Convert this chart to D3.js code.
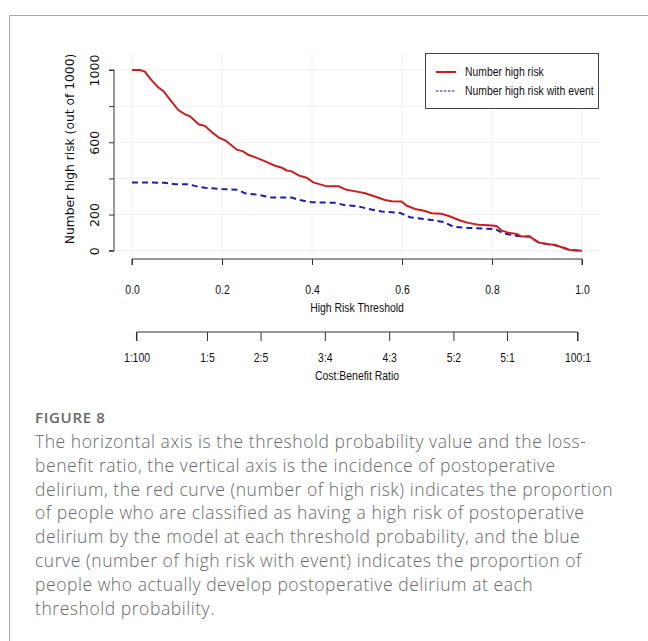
<!DOCTYPE html>
<html>
<head>
<meta charset="utf-8">
<script src="https://cdn.jsdelivr.net/npm/d3@7"></script>
<style>
  body { margin: 0; background: #fff; }
  svg { display: block; }
  .narrow { font-family: 'Liberation Sans', Arial, sans-serif; fill: #111; }
  .wide { font-family: 'DejaVu Sans', Verdana, sans-serif; fill: #111; }
  .caption { font-family: 'Open Sans', 'Noto Sans', sans-serif; fill: #686868; }
</style>
</head>
<body>
<svg id="chart" width="648" height="641"></svg>
<script>
// threshold values and number high risk (out of 1000)
var riskThreshold = [0, 0.018, 0.029, 0.04, 0.058, 0.07, 0.084, 0.103, 0.118, 0.129, 0.149, 0.162, 0.177, 0.193, 0.207, 0.218, 0.233, 0.247, 0.258, 0.273, 0.296, 0.318, 0.333, 0.344, 0.355, 0.37, 0.388, 0.403, 0.414, 0.433, 0.459, 0.477, 0.5, 0.518, 0.54, 0.562, 0.577, 0.599, 0.61, 0.629, 0.647, 0.666, 0.688, 0.707, 0.729, 0.747, 0.77, 0.792, 0.81, 0.822, 0.836, 0.855, 0.866, 0.884, 0.903, 0.921, 0.94, 0.955, 0.973, 1.0];
var highRisk = [1000, 1000, 990, 954, 904, 883, 837, 778, 754, 744, 698, 691, 657, 626, 611, 589, 559, 550, 531, 518, 494, 470, 459, 444, 439, 417, 404, 378, 370, 356, 356, 337, 327, 318, 300, 281, 274, 272, 250, 231, 222, 207, 204, 189, 167, 154, 144, 141, 137, 111, 100, 93, 78, 78, 46, 37, 31, 19, 4, 0];

var eventThreshold = [0, 0.073, 0.096, 0.125, 0.144, 0.162, 0.177, 0.199, 0.236, 0.251, 0.281, 0.31, 0.355, 0.37, 0.399, 0.451, 0.473, 0.5, 0.525, 0.555, 0.596, 0.618, 0.666, 0.692, 0.714, 0.747, 0.807, 0.825, 0.844, 0.866, 0.884, 0.903, 0.921, 0.94, 0.955, 0.973, 1.0];
var highRiskEvent = [378, 376, 368, 368, 356, 348, 346, 341, 337, 318, 309, 294, 294, 282, 268, 265, 252, 247, 231, 217, 209, 185, 170, 159, 133, 126, 120, 96, 87, 78, 78, 46, 37, 31, 19, 4, 0];

var xTicks = [0, 0.2, 0.4, 0.6, 0.8, 1.0];
var yTicks = [0, 200, 400, 600, 800, 1000];
var yTickLabels = ["0", "200", "", "600", "", "1000"];
var costBenefit = ["1:100", "1:5", "2:5", "3:4", "4:3", "5:2", "5:1", "100:1"];
var legendLabels = ["Number high risk", "Number high risk with event"];

var captionTitle = "FIGURE 8";
var captionLines = [
  "The horizontal axis is the threshold probability value and the loss-",
  "benefit ratio, the vertical axis is the incidence of postoperative",
  "delirium, the red curve (number of high risk) indicates the proportion",
  "of people who are classified as having a high risk of postoperative",
  "delirium by the model at each threshold probability, and the blue",
  "curve (number of high risk with event) indicates the proportion of",
  "people who actually develop postoperative delirium at each",
  "threshold probability."
];

var svg = d3.select("#chart");
var redCol = "#c91f1f", blueCol = "#1c1caa";
var squeeze = 0.87; // the R device font is a condensed arial

// figure frame (top + left)
svg.append("path").attr("d", "M9.5,641 V15.5 H648").attr("fill", "none").attr("stroke", "#a8a8a8");

var x = d3.scaleLinear().domain([0, 1]).range([132, 582]);
var y = d3.scaleLinear().domain([0, 1000]).range([250.7, 70]);

function narrowText(sel, ty) {
  sel.attr("class", "narrow").attr("font-size", 12).attr("x", 0).attr("y", 0).attr("dy", null)
    .attr("transform", "translate(0," + ty + ") scale(" + squeeze + ",1)");
}

// grid
var grid = svg.append("g").attr("stroke", "#efefef").attr("stroke-width", 1);
grid.selectAll(".vg").data(xTicks).enter().append("line")
  .attr("x1", function(d) { return x(d); }).attr("x2", function(d) { return x(d); })
  .attr("y1", 53).attr("y2", 258);
grid.selectAll(".hg").data(yTicks).enter().append("line")
  .attr("x1", 114).attr("x2", 600)
  .attr("y1", function(d) { return y(d); }).attr("y2", function(d) { return y(d); });

// y axis
var yAxis = svg.append("g").attr("transform", "translate(114,0)")
  .call(d3.axisLeft(y).tickValues(yTicks).tickSize(5).tickFormat(function(d, i) { return yTickLabels[i]; }));
yAxis.attr("font-family", null).attr("font-size", null);
yAxis.select(".domain").attr("stroke", "#333").attr("d", "M-5," + y(0) + "H0V" + y(1000) + "H-5");
yAxis.selectAll(".tick line").attr("stroke", "#333");
yAxis.selectAll(".tick text").attr("class", "wide").attr("font-size", 12.5)
  .attr("text-anchor", "middle").attr("x", 0).attr("dy", 0)
  .attr("transform", "translate(-19,0) rotate(-90)").attr("dominant-baseline", "middle");

svg.append("text").attr("class", "wide").attr("font-size", 12.3)
  .attr("text-anchor", "middle").attr("transform", "translate(73.5,149) rotate(-90)")
  .text("Number high risk (out of 1000)");

// x axis (threshold)
var xAxis = svg.append("g").attr("transform", "translate(0,259)")
  .call(d3.axisBottom(x).tickValues(xTicks).tickSize(6).tickFormat(d3.format(".1f")));
xAxis.attr("font-family", null).attr("font-size", null);
xAxis.select(".domain").attr("stroke", "#333").attr("d", "M" + x(0) + ",6V0H" + x(1) + "V6");
xAxis.selectAll(".tick line").attr("stroke", "#333");
xAxis.selectAll(".tick text").call(narrowText, 35);

svg.append("text").attr("text-anchor", "middle").call(narrowText, 312)
  .attr("transform", "translate(357,312) scale(" + squeeze + ",1)")
  .text("High Risk Threshold");

// cost:benefit axis, positions from threshold = cost / (cost + benefit)
var cbThreshold = costBenefit.map(function(s) {
  var p = s.split(":");
  return +p[0] / (+p[0] + +p[1]);
});
var cbAxis = svg.append("g").attr("transform", "translate(0,332)")
  .call(d3.axisBottom(x).tickValues(cbThreshold).tickSize(9).tickFormat(function(d, i) { return costBenefit[i]; }));
cbAxis.attr("font-family", null).attr("font-size", null);
cbAxis.select(".domain").attr("stroke", "#333")
  .attr("d", "M" + x(cbThreshold[0]) + ",9V0H" + x(cbThreshold[cbThreshold.length - 1]) + "V9");
cbAxis.selectAll(".tick line").attr("stroke", "#333");
cbAxis.selectAll(".tick text").call(narrowText, 30);

svg.append("text").attr("text-anchor", "middle").call(narrowText, 380)
  .attr("transform", "translate(357,380) scale(" + squeeze + ",1)")
  .text("Cost:Benefit Ratio");

// curves
var line = d3.line().x(function(d) { return x(d[0]); }).y(function(d) { return y(d[1]); });
svg.append("path").datum(d3.zip(eventThreshold, highRiskEvent)).attr("d", line)
  .attr("fill", "none").attr("stroke", blueCol).attr("stroke-width", 2).attr("stroke-dasharray", "6,4");
svg.append("path").datum(d3.zip(riskThreshold, highRisk)).attr("d", line)
  .attr("fill", "none").attr("stroke", redCol).attr("stroke-width", 2);

// legend
var legend = svg.append("g");
legend.append("rect").attr("x", 425.5).attr("y", 53.5).attr("width", 173).attr("height", 55)
  .attr("fill", "#fff").attr("stroke", "#444");
legendLabels.forEach(function(lbl, i) {
  var ly = 72 + i * 19;
  legend.append("line").attr("x1", 436).attr("x2", 456).attr("y1", ly).attr("y2", ly)
    .attr("stroke", i == 0 ? redCol : blueCol).attr("stroke-width", i == 0 ? 2 : 1)
    .attr("stroke-dasharray", i == 0 ? null : "2.5,1.5");
  legend.append("text").call(narrowText, ly + 4)
    .attr("transform", "translate(465," + (ly + 4) + ") scale(" + squeeze + ",1)")
    .text(lbl);
});

// caption
svg.append("text").attr("class", "caption").attr("font-size", 15).attr("font-weight", 600)
  .attr("letter-spacing", 0.7).attr("fill", "#777").attr("x", 35).attr("y", 423).text(captionTitle);
svg.selectAll(".capline").data(captionLines).enter().append("text")
  .attr("class", "caption").attr("font-size", 17.5).attr("font-weight", 300).attr("letter-spacing", 0.55)
  .attr("x", 35).attr("y", function(d, i) { return 448 + i * 23.8; })
  .text(function(d) { return d; });
</script>
</body>
</html>
